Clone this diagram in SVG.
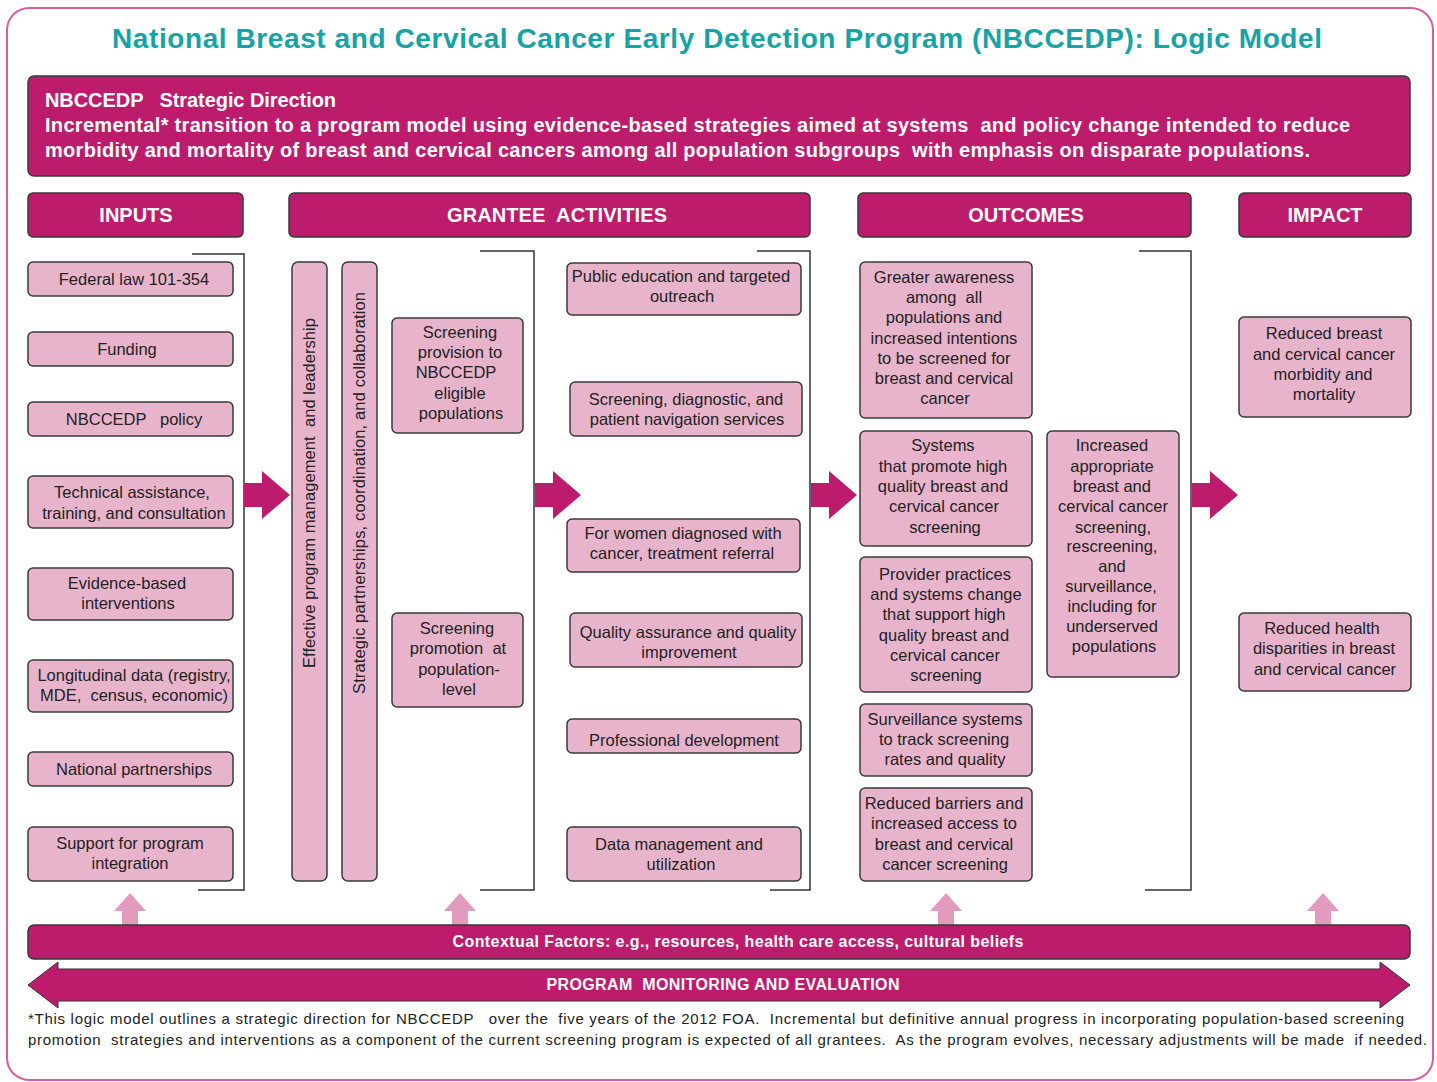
<svg xmlns="http://www.w3.org/2000/svg" width="1437" height="1082" viewBox="0 0 1437 1082">
<style>
text{white-space:pre}
.hdr{fill:#BC1C6B;stroke:#3a3a3a;stroke-width:1.5}
.box{fill:#E8B4CC;stroke:#3a3a3a;stroke-width:1.5}
.t{font-family:"Liberation Sans",Arial,sans-serif;font-size:16.5px;fill:#222;text-anchor:middle}
.w{font-family:"Liberation Sans",Arial,sans-serif;font-weight:bold;fill:#fff}
.wc{text-anchor:middle}
.br{fill:none;stroke:#333;stroke-width:1.5}
.arr{fill:#BC1C6B}
.up{fill:#E29BBD}
.ft{font-family:"Liberation Sans",Arial,sans-serif;font-size:15px;fill:#222}
</style>
<rect x="0" y="0" width="1437" height="1082" fill="#fff"/>
<rect x="7" y="8" width="1426" height="1072" rx="22" fill="#fff" stroke="#D4619F" stroke-width="2"/>
<text x="717" y="48" text-anchor="middle" textLength="1210" font-family="Liberation Sans, Arial, sans-serif" font-weight="bold" font-size="28" fill="#17A3A5">National Breast and Cervical Cancer Early Detection Program (NBCCEDP): Logic Model</text>

<g id="strategic">
<rect class="hdr" x="28" y="76" width="1382" height="100" rx="6"/>
<text class="w" x="45" y="107" font-size="20" textLength="291">NBCCEDP   Strategic Direction</text>
<text class="w" x="45" y="132" font-size="20" textLength="1305">Incremental* transition to a program model using evidence-based strategies aimed at systems  and policy change intended to reduce</text>
<text class="w" x="45" y="157" font-size="20" textLength="1265">morbidity and mortality of breast and cervical cancers among all population subgroups  with emphasis on disparate populations.</text>
</g>

<g id="hdr-inputs"><rect class="hdr" x="28" y="193" width="215" height="44" rx="5"/><text class="w wc" x="136" y="222" font-size="20">INPUTS</text></g>
<g id="hdr-activities"><rect class="hdr" x="289" y="193" width="521" height="44" rx="5"/><text class="w wc" x="557" y="222" font-size="20" textLength="220">GRANTEE  ACTIVITIES</text></g>
<g id="hdr-outcomes"><rect class="hdr" x="858" y="193" width="333" height="44" rx="5"/><text class="w wc" x="1026" y="222" font-size="20">OUTCOMES</text></g>
<g id="hdr-impact"><rect class="hdr" x="1239" y="193" width="172" height="44" rx="5"/><text class="w wc" x="1325" y="222" font-size="20">IMPACT</text></g>

<g id="connectors">
<path class="br" d="M192 254H244V890H198"/>
<path class="br" d="M480 251H534V890H480"/>
<path class="br" d="M757 251H810V890H770"/>
<path class="br" d="M1139 251H1191V890H1145"/>
<path class="arr" d="M244 483H262V471L290 495L262 519V507H244Z"/>
<path class="arr" d="M535 483H553V471L581 495L553 519V507H535Z"/>
<path class="arr" d="M811 483H829V471L857 495L829 519V507H811Z"/>
<path class="arr" d="M1192 483H1210V471L1238 495L1210 519V507H1192Z"/>
<path class="up" d="M122 925V911H114L130 893L146 911H138V925Z"/>
<path class="up" d="M452 925V911H444L460 893L476 911H468V925Z"/>
<path class="up" d="M938 925V911H930L946 893L962 911H954V925Z"/>
<path class="up" d="M1315 925V911H1307L1323 893L1339 911H1331V925Z"/>
</g>

<g id="in1"><rect class="box" x="28" y="262" width="205" height="34" rx="5"/><text class="t" x="134" y="285">Federal law 101-354</text></g>
<g id="in2"><rect class="box" x="28" y="332" width="205" height="34" rx="5"/><text class="t" x="127" y="355">Funding</text></g>
<g id="in3"><rect class="box" x="28" y="402" width="205" height="34" rx="5"/><text class="t" x="134" y="425">NBCCEDP   policy</text></g>
<g id="in4"><rect class="box" x="28" y="476" width="205" height="52" rx="5"/><text class="t" x="132" y="498">Technical assistance,</text><text class="t" x="134" y="519">training, and consultation</text></g>
<g id="in5"><rect class="box" x="28" y="568" width="205" height="52" rx="5"/><text class="t" x="127" y="589">Evidence-based</text><text class="t" x="128" y="609">interventions</text></g>
<g id="in6"><rect class="box" x="28" y="660" width="205" height="52" rx="5"/><text class="t" x="134" y="681">Longitudinal data (registry,</text><text class="t" x="134" y="701">MDE,  census, economic)</text></g>
<g id="in7"><rect class="box" x="28" y="752" width="205" height="34" rx="5"/><text class="t" x="134" y="775">National partnerships</text></g>
<g id="in8"><rect class="box" x="28" y="827" width="205" height="54" rx="5"/><text class="t" x="130" y="849">Support for program</text><text class="t" x="130" y="869">integration</text></g>

<g id="bar1"><rect class="box" x="292" y="262" width="35" height="619" rx="6"/><text class="t" transform="translate(315 493) rotate(-90)" textLength="350">Effective program management  and leadership</text></g>
<g id="bar2"><rect class="box" x="342" y="262" width="35" height="619" rx="6"/><text class="t" transform="translate(365 493) rotate(-90)" textLength="402">Strategic partnerships, coordination, and collaboration</text></g>

<g id="act-prov"><rect class="box" x="392" y="318" width="131" height="115" rx="5"/>
<text class="t" x="460" y="338">Screening</text><text class="t" x="460" y="358">provision to</text><text class="t" x="456" y="378">NBCCEDP</text><text class="t" x="460" y="399">eligible</text><text class="t" x="461" y="419">populations</text></g>
<g id="act-prom"><rect class="box" x="392" y="613" width="131" height="94" rx="5"/>
<text class="t" x="457" y="634">Screening</text><text class="t" x="458" y="654">promotion  at</text><text class="t" x="459" y="675">population-</text><text class="t" x="459" y="695">level</text></g>

<g id="act1"><rect class="box" x="567" y="263" width="234" height="52" rx="5"/><text class="t" x="681" y="282">Public education and targeted</text><text class="t" x="682" y="302">outreach</text></g>
<g id="act2"><rect class="box" x="570" y="382" width="232" height="54" rx="5"/><text class="t" x="686" y="405">Screening, diagnostic, and</text><text class="t" x="687" y="425">patient navigation services</text></g>
<g id="act3"><rect class="box" x="567" y="519" width="233" height="53" rx="5"/><text class="t" x="683" y="539">For women diagnosed with</text><text class="t" x="682" y="559">cancer, treatment referral</text></g>
<g id="act4"><rect class="box" x="570" y="613" width="232" height="54" rx="5"/><text class="t" x="688" y="638">Quality assurance and quality</text><text class="t" x="689" y="658">improvement</text></g>
<g id="act5"><rect class="box" x="567" y="719" width="234" height="34" rx="5"/><text class="t" x="684" y="746">Professional development</text></g>
<g id="act6"><rect class="box" x="567" y="827" width="234" height="54" rx="5"/><text class="t" x="679" y="850">Data management and</text><text class="t" x="681" y="870">utilization</text></g>

<g id="out1"><rect class="box" x="860" y="262" width="172" height="156" rx="5"/>
<text class="t" x="944" y="283">Greater awareness</text><text class="t" x="944" y="303">among  all</text><text class="t" x="944" y="323">populations and</text><text class="t" x="944" y="344">increased intentions</text><text class="t" x="944" y="364">to be screened for</text><text class="t" x="944" y="384">breast and cervical</text><text class="t" x="945" y="404">cancer</text></g>
<g id="out2"><rect class="box" x="860" y="431" width="172" height="115" rx="5"/>
<text class="t" x="943" y="451">Systems</text><text class="t" x="943" y="472">that promote high</text><text class="t" x="943" y="492">quality breast and</text><text class="t" x="944" y="512">cervical cancer</text><text class="t" x="945" y="533">screening</text></g>
<g id="out3"><rect class="box" x="860" y="557" width="172" height="135" rx="5"/>
<text class="t" x="945" y="580">Provider practices</text><text class="t" x="946" y="600">and systems change</text><text class="t" x="944" y="620">that support high</text><text class="t" x="944" y="641">quality breast and</text><text class="t" x="945" y="661">cervical cancer</text><text class="t" x="946" y="681">screening</text></g>
<g id="out4"><rect class="box" x="860" y="704" width="172" height="72" rx="5"/>
<text class="t" x="945" y="725">Surveillance systems</text><text class="t" x="944" y="745">to track screening</text><text class="t" x="945" y="765">rates and quality</text></g>
<g id="out5"><rect class="box" x="860" y="788" width="172" height="93" rx="5"/>
<text class="t" x="944" y="809">Reduced barriers and</text><text class="t" x="944" y="829">increased access to</text><text class="t" x="944" y="850">breast and cervical</text><text class="t" x="945" y="870">cancer screening</text></g>
<g id="out6"><rect class="box" x="1047" y="431" width="132" height="246" rx="5"/>
<text class="t" x="1112" y="451">Increased</text><text class="t" x="1112" y="472">appropriate</text><text class="t" x="1112" y="492">breast and</text><text class="t" x="1113" y="512">cervical cancer</text><text class="t" x="1113" y="533">screening,</text><text class="t" x="1112" y="552">rescreening,</text><text class="t" x="1112" y="572">and</text><text class="t" x="1111" y="592">surveillance,</text><text class="t" x="1112" y="612">including for</text><text class="t" x="1112" y="632">underserved</text><text class="t" x="1114" y="652">populations</text></g>

<g id="imp1"><rect class="box" x="1239" y="317" width="172" height="100" rx="5"/>
<text class="t" x="1324" y="339">Reduced breast</text><text class="t" x="1324" y="360">and cervical cancer</text><text class="t" x="1323" y="380">morbidity and</text><text class="t" x="1324" y="400">mortality</text></g>
<g id="imp2"><rect class="box" x="1239" y="613" width="172" height="78" rx="5"/>
<text class="t" x="1322" y="634">Reduced health</text><text class="t" x="1324" y="654">disparities in breast</text><text class="t" x="1325" y="675">and cervical cancer</text></g>

<g id="context"><rect class="hdr" x="28" y="925" width="1382" height="34" rx="6"/><text class="w wc" x="738" y="947" font-size="16" textLength="571">Contextual Factors: e.g., resources, health care access, cultural beliefs</text></g>
<g id="monitor"><path class="arr" d="M28 985L58 962V969H1380V962L1410 985L1380 1008V1001H58V1008Z" stroke="#333" stroke-width="1"/><text class="w wc" x="723" y="990" font-size="16" textLength="353">PROGRAM  MONITORING AND EVALUATION</text></g>

<text class="ft" x="28" y="1024" textLength="1376">*This logic model outlines a strategic direction for NBCCEDP   over the  five years of the 2012 FOA.  Incremental but definitive annual progress in incorporating population-based screening</text>
<text class="ft" x="28" y="1045" textLength="1399">promotion  strategies and interventions as a component of the current screening program is expected of all grantees.  As the program evolves, necessary adjustments will be made  if needed.</text>
</svg>
